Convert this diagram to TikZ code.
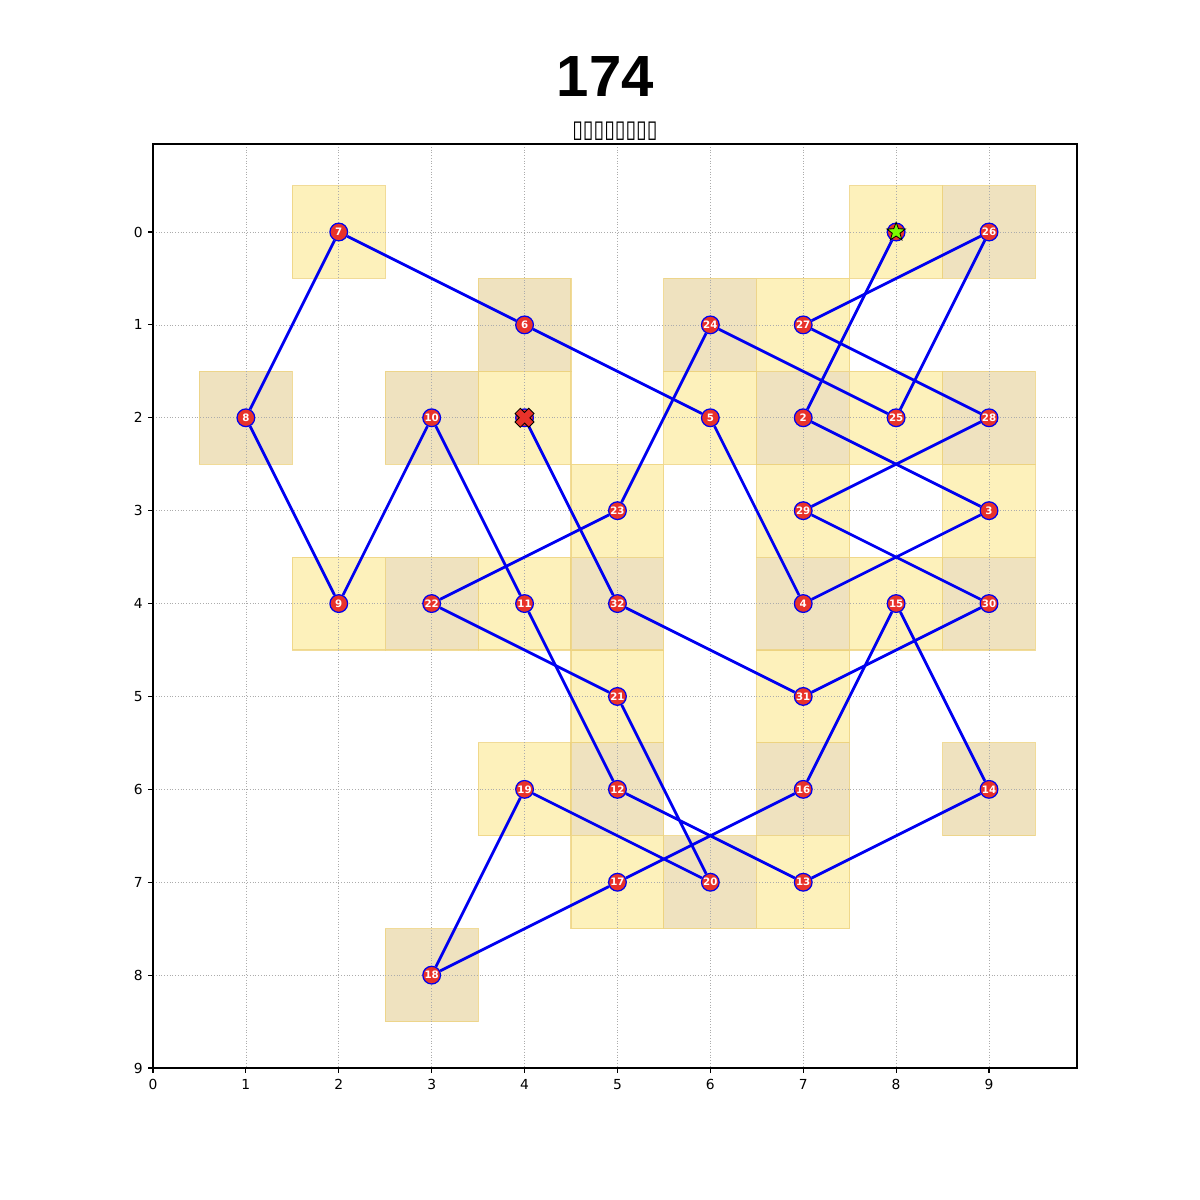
\documentclass[tikz,border=0pt]{standalone}
\usepackage{fontspec}
\setmainfont{DejaVu Sans}
\newfontfamily\headfont{Liberation Sans}
\usetikzlibrary{shapes.geometric}
\definecolor{cellyel}{HTML}{FDF1BB}
\definecolor{celltan}{HTML}{EFE2BF}
\definecolor{celledge}{HTML}{EDD27E}
\definecolor{stopred}{HTML}{E8322A}
\definecolor{pathblue}{HTML}{0000F0}
\definecolor{startgreen}{HTML}{7CFC00}
\pgfdeclarelayer{cells}
\pgfdeclarelayer{edges}
\pgfsetlayers{cells,edges,main}
\tikzset{
  waypt/.style={circle, draw=pathblue, fill=stopred, line width=0.9pt, minimum size=12.8pt,
    inner sep=0pt, text=white, font=\fontsize{7.4}{7.4}\selectfont\bfseries},
  hop/.style={draw=pathblue, line width=2pt},
  ticklbl/.style={inner sep=0pt, font=\fontsize{10}{10}\selectfont},
  gridln/.style={draw=gray!65, line width=0.5pt, dash pattern=on 0.7pt off 1.3pt},
  cellbox/.style={draw=celledge, draw opacity=0.8, line width=0.8pt},
}
\begin{document}
\begin{tikzpicture}[x=2.3594cm,y=-2.3594cm]
\useasboundingbox (-1.6471,-2.4976) rectangle (11.2714,10.4209);
% title
\node[anchor=base, font=\headfont\fontsize{42}{42}\selectfont\bfseries] (title) at (4.87,-1.464) {174};
\node[anchor=base, font=\fontsize{14}{14}\selectfont] (subtitle) at (4.973,-1.012) {\scalebox{1}[1.25]{▯▯▯▯▯▯▯▯}};
% cells and grid
\begin{pgfonlayer}{cells}
\foreach \cx/\cy in {2/0,8/0,7/1,4/2,6/2,8/2,5/3,7/3,9/3,2/4,4/4,8/4,5/5,7/5,4/6,5/7,7/7}
  \filldraw[cellbox, fill=cellyel] (\cx-0.5,\cy-0.5) rectangle (\cx+0.5,\cy+0.5);
\foreach \cx/\cy in {9/0,4/1,6/1,1/2,3/2,7/2,9/2,3/4,5/4,7/4,9/4,5/6,7/6,9/6,6/7,3/8}
  \filldraw[cellbox, fill=celltan] (\cx-0.5,\cy-0.5) rectangle (\cx+0.5,\cy+0.5);
\foreach \g in {0,...,9} {
  \draw[gridln] (\g,-0.947) -- (\g,9);
  \draw[gridln] (0,\g) -- (9.947,\g);
}
\end{pgfonlayer}
% axes
\draw[line width=0.8pt] (0,-0.947) rectangle (9.947,9);
\foreach \g in {0,...,9} {
  \draw[line width=0.8pt] (\g,9) -- ++(0,-3.5pt);
  \draw[line width=0.8pt] (0,\g) -- ++(-3.5pt,0);
  \node[ticklbl, anchor=north] (xt\g) at (\g,9) [yshift=-8pt] {\g};
  \node[ticklbl, anchor=east] (yt\g) at (0,\g) [xshift=-7.2pt] {\g};
}
% stops
\node[waypt] (s1) at (8,0) {};
\node[waypt] (s2) at (7,2) {2};
\node[waypt] (s3) at (9,3) {3};
\node[waypt] (s4) at (7,4) {4};
\node[waypt] (s5) at (6,2) {5};
\node[waypt] (s6) at (4,1) {6};
\node[waypt] (s7) at (2,0) {7};
\node[waypt] (s8) at (1,2) {8};
\node[waypt] (s9) at (2,4) {9};
\node[waypt] (s10) at (3,2) {10};
\node[waypt] (s11) at (4,4) {11};
\node[waypt] (s12) at (5,6) {12};
\node[waypt] (s13) at (7,7) {13};
\node[waypt] (s14) at (9,6) {14};
\node[waypt] (s15) at (8,4) {15};
\node[waypt] (s16) at (7,6) {16};
\node[waypt] (s17) at (5,7) {17};
\node[waypt] (s18) at (3,8) {18};
\node[waypt] (s19) at (4,6) {19};
\node[waypt] (s20) at (6,7) {20};
\node[waypt] (s21) at (5,5) {21};
\node[waypt] (s22) at (3,4) {22};
\node[waypt] (s23) at (5,3) {23};
\node[waypt] (s24) at (6,1) {24};
\node[waypt] (s25) at (8,2) {25};
\node[waypt] (s26) at (9,0) {26};
\node[waypt] (s27) at (7,1) {27};
\node[waypt] (s28) at (9,2) {28};
\node[waypt] (s29) at (7,3) {29};
\node[waypt] (s30) at (9,4) {30};
\node[waypt] (s31) at (7,5) {31};
\node[waypt] (s32) at (5,4) {32};
\node[waypt] (s33) at (4,2) {};
% route
\begin{pgfonlayer}{edges}
\draw[hop] (s1) -- (s2) -- (s3) -- (s4) -- (s5) -- (s6) -- (s7) -- (s8) -- (s9) -- (s10) -- (s11);
\draw[hop] (s11) -- (s12) -- (s13) -- (s14) -- (s15) -- (s16) -- (s17) -- (s18) -- (s19) -- (s20) -- (s21);
\draw[hop] (s21) -- (s22) -- (s23) -- (s24) -- (s25) -- (s26) -- (s27) -- (s28) -- (s29) -- (s30) -- (s31);
\draw[hop] (s31) -- (s32) -- (s33);
\end{pgfonlayer}
% start and goal
\node[star, star points=5, star point ratio=2.4, minimum size=14pt, inner sep=0pt,
  fill=startgreen, draw=black, line width=0.6pt] (start) at (s1) {};
\filldraw[fill=stopred, draw=black, line width=0.6pt, shift={(s33)}, rotate=45]
  (2.7pt,7pt) -- (2.7pt,2.7pt) -- (7pt,2.7pt) -- (7pt,-2.7pt) -- (2.7pt,-2.7pt) -- (2.7pt,-7pt)
  -- (-2.7pt,-7pt) -- (-2.7pt,-2.7pt) -- (-7pt,-2.7pt) -- (-7pt,2.7pt) -- (-2.7pt,2.7pt) -- (-2.7pt,7pt) -- cycle;
\end{tikzpicture}
\end{document}
